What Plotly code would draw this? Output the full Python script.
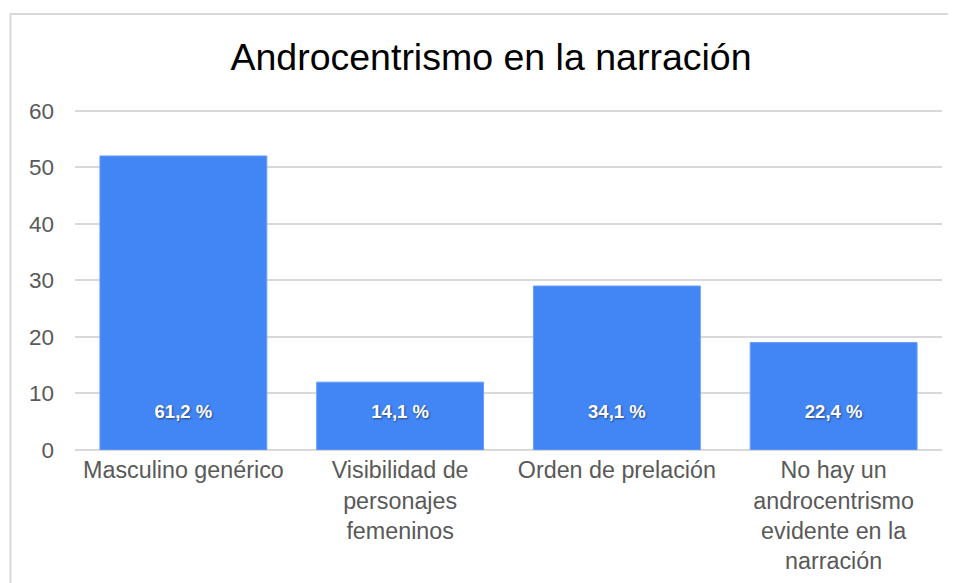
import plotly.graph_objects as go

categories = ["Masculino genérico", "Visibilidad de<br>personajes<br>femeninos",
              "Orden de prelación", "No hay un<br>androcentrismo<br>evidente en la<br>narración"]
values = [52, 12, 29, 19]
pct_labels = ["61,2 %", "14,1 %", "34,1 %", "22,4 %"]
label_y = [6.4, 6.4, 6.4, 6.4]
y_ticks = [0, 10, 20, 30, 40, 50, 60]

# page body has an 8px margin, so figure coords = screen coords - 8
OFF = 8
W, H = 956 - OFF, 583 - OFF
ymax = 60.3
px_per_unit = (450 - 111) / 60.0
top_screen = 450 - ymax * px_per_unit
L = 75 - OFF
R = W - (942 - OFF)
T = top_screen - OFF
B = H - (450 - OFF)
pw, ph = W - L - R, H - T - B

fig = go.Figure()
fig.add_trace(go.Bar(
    x=categories, y=values, width=0.77,
    marker=dict(color="#4285F4", line=dict(color="#6a9ff5", width=1)),
    hoverinfo="skip",
))
fig.add_trace(go.Scatter(
    x=categories, y=label_y, mode="text", text=pct_labels,
    textfont=dict(family="Liberation Sans, Arial", size=18.5, color="white",
                  weight="bold", shadow="1px 1px 2px rgba(0,0,0,0.45)"),
    hoverinfo="skip",
))

# outer frame: only left and top edges are visible in the window
fx0 = (10.5 - OFF - L) / pw
fy1 = (H - B - (14.5 - OFF)) / ph
fx1 = (W + 20 - L) / pw
fy0 = (H - B - (H + 20)) / ph
fig.add_shape(type="path", xref="paper", yref="paper",
              path=f"M {fx0},{fy0} L {fx0},{fy1} L {fx1},{fy1}",
              line=dict(color="#d9d9d9", width=2), layer="below")

fig.update_layout(
    width=W, height=H,
    margin=dict(l=L, r=R, t=T, b=B, pad=0, autoexpand=False),
    paper_bgcolor="white", plot_bgcolor="white",
    showlegend=False, bargap=0.23,
    title=dict(text="Androcentrismo en la narración", x=(491 - OFF) / W, xanchor="center",
               xref="container", y=1 - (57 - OFF) / H, yanchor="middle", yref="container",
               font=dict(family="Liberation Sans, Arial", size=37.5, color="black")),
    font=dict(family="Liberation Sans, Arial", color="#595959"),
)
fig.update_xaxes(showgrid=False, showline=False, zeroline=False, automargin=False,
                 tickfont=dict(size=23.3, color="#595959"), ticks="", ticklabelstandoff=4)
fig.update_yaxes(range=[0, ymax], tickvals=y_ticks, showgrid=True, gridcolor="#d9d9d9",
                 gridwidth=1.5, zeroline=True, zerolinecolor="#d9d9d9", zerolinewidth=1.5,
                 showline=False, ticks="", tickfont=dict(size=22.5, color="#595959"),
                 ticklabelstandoff=20, automargin=False)

fig.write_html("out.html",
               post_script="document.documentElement.style.overflow='hidden';"
                           "document.body.style.overflow='hidden';")
